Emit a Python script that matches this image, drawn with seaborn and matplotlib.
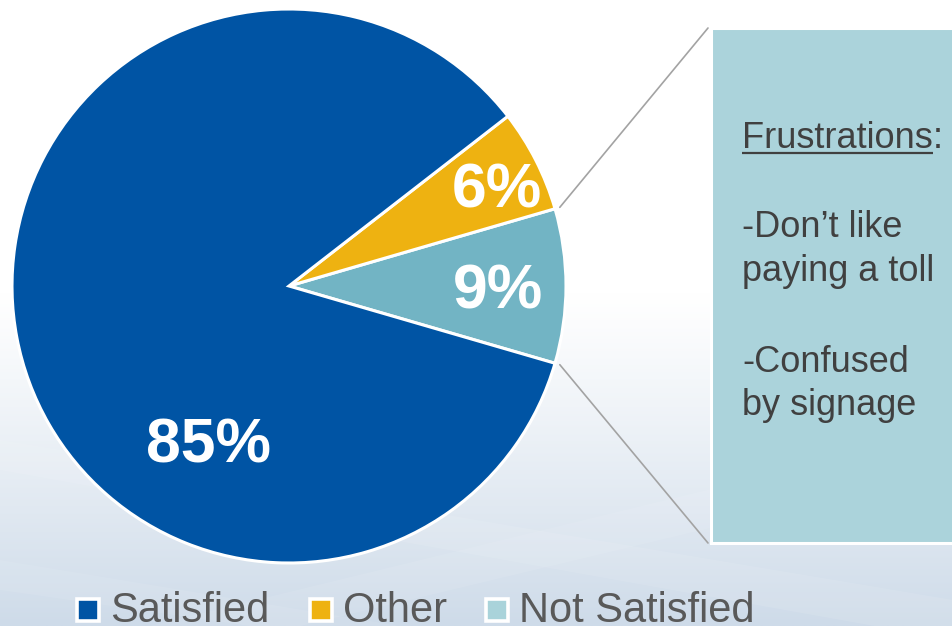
import numpy as np
import matplotlib
matplotlib.use("Agg")
import matplotlib.pyplot as plt
from matplotlib.patches import Rectangle, Polygon
import seaborn as sns

# Survey response shares (percent)
categories = ["Not Satisfied", "Other", "Satisfied"]
shares = [9, 6, 85]
legend_order = ["Satisfied", "Other", "Not Satisfied"]

callout_title = "Frustrations"
callout_lines = ["-Don\u2019t like", "paying a toll", "", "-Confused", "by signage"]

slice_colors = {"Satisfied": "#0054A4", "Other": "#EEB211", "Not Satisfied": "#72B4C4"}
legend_colors = {"Satisfied": "#0054A4", "Other": "#EEB211", "Not Satisfied": "#A9D3DA"}

sns.set_style("white")
plt.rcParams["font.family"] = ["Liberation Sans", "DejaVu Sans"]

W, H = 953, 626
fig = plt.figure(figsize=(W / 100, H / 100), dpi=100)
ax = fig.add_axes([0, 0, 1, 1])


def Y(py):
    """Convert a top-down pixel row to the y-up axes coordinate."""
    return H - py


# pie
cx, cy, r = 289, Y(286), 277
start = -shares[0] / 100 * 360 / 2
palette = sns.color_palette([slice_colors[c] for c in categories])
wedges, _ = ax.pie(shares, colors=palette, startangle=start, counterclock=True,
                   center=(cx, cy), radius=r,
                   wedgeprops=dict(edgecolor="white", linewidth=2.2))
for w in wedges:
    w.set_zorder(2)

ax.set_xlim(0, W)
ax.set_ylim(0, H)
ax.set_aspect("auto")
ax.axis("off")

# soft white-to-steel background (row 0 = top of figure)
rows = np.linspace(0, 1, 400)
t = np.clip((rows - 0.47) / 0.53, 0, 1) ** 1.1
top = np.array([1.0, 1.0, 1.0])
bottom = np.array([206, 219, 233]) / 255
grad = top[None, :] * (1 - t[:, None]) + bottom[None, :] * t[:, None]
grad = np.repeat(grad[:, None, :], 2, axis=1)
ax.imshow(grad, extent=(0, W, 0, H), origin="upper", aspect="auto", zorder=0,
          interpolation="bilinear")
# faint diagonal light streaks
for pts, a in [([(0, Y(470)), (953, Y(640)), (953, Y(600)), (0, Y(440))], 0.09),
               ([(150, Y(626)), (953, Y(430)), (953, Y(470)), (300, Y(626))], 0.08),
               ([(0, Y(560)), (400, Y(626)), (250, Y(626)), (0, Y(590))], 0.07)]:
    ax.add_patch(Polygon(pts, closed=True, facecolor="white", edgecolor="none",
                         alpha=a, zorder=0.5))

# percentage labels placed inside their wedges
label_frac = {"Not Satisfied": 0.755, "Other": 0.835, "Satisfied": 0.626}
label_angle = {"Not Satisfied": 0.0, "Other": 26.0, "Satisfied": 242.5}
for cat, val in zip(categories, shares):
    ang = np.deg2rad(label_angle[cat])
    d = label_frac[cat] * r
    x = cx + d * np.cos(ang)
    y = cy + d * np.sin(ang) - 22.5
    ax.text(x, y, f"{val}%", ha="center", va="baseline", color="white",
            fontsize=45, fontweight="bold", zorder=4)

# callout box for the dissatisfied slice
box_x, box_top, box_bot = 711, 28, 543
ax.add_patch(Rectangle((box_x, Y(box_bot)), 260, box_bot - box_top,
                       facecolor="#ABD3DB", edgecolor="white", linewidth=2.2,
                       zorder=2))
ns = wedges[0]
for theta, py in [(ns.theta2, box_top), (ns.theta1, box_bot)]:
    a = np.deg2rad(theta)
    x0, y0 = cx + (r + 5) * np.cos(a), cy + (r + 5) * np.sin(a)
    ax.plot([x0, box_x - 3], [y0, Y(py)], color="#A3A3A3", lw=1.2, zorder=1.5)

txt_color = "#404040"
title = ax.text(742, Y(148), callout_title, fontsize=26, color=txt_color,
                ha="left", va="baseline", zorder=4)
fig.canvas.draw()
bb = title.get_window_extent().transformed(ax.transData.inverted())
ax.text(bb.x1, Y(148), ":", fontsize=26, color=txt_color, ha="left",
        va="baseline", zorder=4)
ax.plot([bb.x0, bb.x1], [Y(153), Y(153)], color=txt_color, lw=1.6, zorder=4,
        solid_capstyle="butt")
baselines = [237, 281, 326, 372, 415]
for line, b in zip(callout_lines, baselines):
    if line:
        ax.text(742, Y(b), line, fontsize=26, color=txt_color, ha="left",
                va="baseline", zorder=4)

# legend row
swatch_x = {"Satisfied": 77, "Other": 310, "Not Satisfied": 486}
for cat in legend_order:
    sx = swatch_x[cat]
    ax.add_patch(Rectangle((sx, Y(621)), 22, 22, facecolor=legend_colors[cat],
                           edgecolor="white", linewidth=2.6, zorder=3))
    ax.text(sx + 33, Y(622), cat, fontsize=30, color="#595959", ha="left",
            va="baseline", zorder=4)

fig.savefig("out.png", dpi=100)
